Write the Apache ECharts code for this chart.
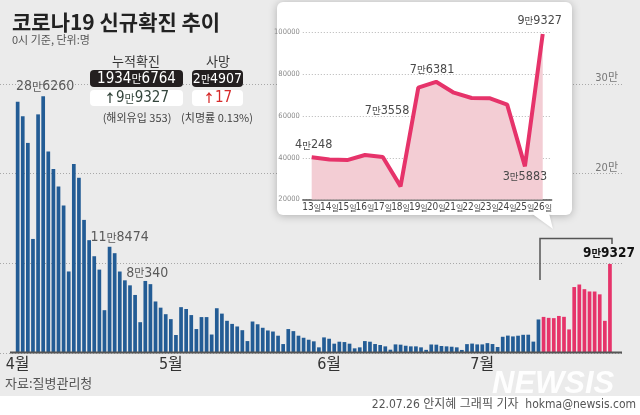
<!DOCTYPE html>
<html><head><meta charset="utf-8">
<script src="https://cdn.jsdelivr.net/npm/echarts@6/dist/echarts.min.js"></script>
<style>html,body{margin:0;padding:0;background:#fff}#c{width:640px;height:415px}</style>
</head><body><div id="c"></div>
<script>
// ---- data ----
const months = ['4월', '5월', '6월', '7월'];
const monthDays = [30, 31, 30, 26];
const aprCases = [280273, 264171, 234301, 127190, 266135, 286260, 224820, 205333, 185566, 164481,
  90928, 210755, 195419, 148443, 125846, 107916, 93001, 47743, 118474, 111319,
  90867, 81058, 75449, 64725, 34370, 80340, 76787, 57464, 50568, 43283];
const mayCases = [37771, 20084, 51131, 49064, 42296, 26714, 40064, 40050, 20601, 49933,
  43925, 35906, 32451, 29581, 25434, 13296, 35117, 32057, 28130, 25125,
  23956, 19298, 9975, 26700, 24400, 19300, 17000, 14800, 13000, 6300, 17400];
const junCases = [15900, 10400, 12600, 12200, 10400, 5200, 6300, 13300, 12600, 10000,
  8900, 7400, 3700, 9600, 9300, 8100, 7400, 7400, 6300, 3500,
  9500, 9300, 7800, 7400, 7000, 6300, 3400, 9900, 10500, 9600];
const julCases = [9600, 11000, 10000, 6700, 18100, 19400, 18500, 19300, 20300, 20400,
  12700, 37400, 40248, 39196, 38882, 41310, 40342, 26299, 73558, 76381,
  71170, 68632, 68551, 65433, 35883, 99327];
const insetDays = ['13일','14일','15일','16일','17일','18일','19일','20일','21일','22일','23일','24일','25일','26일'];
const mainTicks = [100000, 200000, 300000];
const mainTickLabels = ['', '20만', '30만'];
const insetTicks = [20000, 40000, 60000, 80000, 100000];
const mainAnnotated = ['4월 6일', '4월 19일', '4월 26일', '7월 26일'];
const insetAnnotated = ['13일', '19일', '20일', '25일', '26일'];
const redFrom = '7월 13일';

// ---- build ----
const BLUE = '#235c95', RED = '#e6336a';
const NARROW = "'Liberation Sans Narrow','DejaVu Sans Condensed','Noto Sans CJK KR',sans-serif";
const KR = "'Noto Sans CJK KR',sans-serif";
const cats = [];
months.forEach((m, i) => { for (let d = 1; d <= monthDays[i]; d++) cats.push(m + ' ' + d + '일'); });
const allCases = aprCases.concat(mayCases, junCases, julCases);
const redStart = cats.indexOf(redFrom);
const insetCases = julCases.slice(julCases.length - insetDays.length);

function kor(v) { return '{n|' + Math.floor(v / 10000) + '}{m|만}{n|' + (v % 10000) + '}'; }

const mainLabelStyles = [
  { offset: [2, 0], distance: 3 },
  { offset: [10, 0], distance: 2 },
  { offset: [2, 0], distance: 1 },
  { offset: [-1, 0], distance: 4, dark: true }
];
function richFor(color, bold, ns, ms) {
  return {
    n: { fontSize: ns, fontFamily: NARROW, color: color, fontWeight: bold ? 'bold' : 'normal' },
    m: { fontSize: ms, fontFamily: KR, color: color, fontWeight: bold ? 'bold' : 'normal' }
  };
}
const barData = allCases.map((v, i) => {
  const item = { value: v };
  if (i >= redStart) item.itemStyle = { color: RED };
  const k = mainAnnotated.indexOf(cats[i]);
  if (k >= 0) {
    const s = mainLabelStyles[k];
    item.label = {
      show: true, position: 'top', offset: s.offset, distance: s.distance,
      formatter: p => kor(p.value),
      rich: s.dark ? richFor('#111', true, 13.5, 10.5) : richFor('#5a5a5a', false, 14, 11)
    };
  }
  return item;
});

const insetLabelPos = [
  { position: 'top', distance: 6, offset: [2, 0] },
  { position: 'left', distance: 9, offset: [0, 23] },
  { position: 'top', distance: 6, offset: [-4, 0] },
  { position: 'bottom', distance: 4, offset: [0, 0] },
  { position: 'top', distance: 7, offset: [-3, 0] }
];
const lineData = insetCases.map((v, i) => {
  const item = { value: v };
  const k = insetAnnotated.indexOf(insetDays[i]);
  if (k >= 0) {
    const s = insetLabelPos[k];
    item.label = {
      show: true, position: s.position, distance: s.distance, offset: s.offset,
      formatter: p => kor(p.value), rich: richFor('#4a4a4a', false, 12.5, 9.5)
    };
  }
  return item;
});

function txt(x, y, text, font, color, align, valign, z, rich) {
  const st = { text: text, font: font, fill: color, textAlign: align || 'left', textVerticalAlign: valign || 'middle',
    align: align || 'left', verticalAlign: valign || 'middle' };
  if (rich) st.rich = rich;
  return { type: 'text', x: x, y: y, z: z || 10, style: st };
}

const chart = echarts.init(document.getElementById('c'), null, { renderer: 'canvas' });
chart.setOption({
  backgroundColor: '#ebebeb',
  animation: false,
  grid: [
    { left: 15.1, right: 27.5, top: 84, bottom: 62 },
    { left: 0, right: 18, top: 84, bottom: 62 },
    { left: 302.8, right: 88.4, top: 32.5, bottom: 215.5 }
  ],
  xAxis: [
    { type: 'category', gridIndex: 0, data: cats, boundaryGap: true,
      axisLine: { show: false }, axisTick: { show: false },
      axisLabel: { interval: (i, v) => / 1일$/.test(v), formatter: v => v.split(' ')[0],
        fontSize: 16, color: '#333', margin: 4, fontFamily: NARROW } },
    { type: 'value', gridIndex: 1, min: 0, max: 1, show: false },
    { type: 'category', gridIndex: 2, data: insetDays, boundaryGap: true, z: 3,
      axisLine: { lineStyle: { color: '#555', width: 1.5 } },
      axisTick: { alignWithLabel: true, length: 3, lineStyle: { color: '#555' } },
      axisLabel: { interval: 0, margin: 3, color: '#444',
        formatter: v => '{n|' + v.replace('일', '') + '}{d|일}',
        rich: { n: { fontSize: 10, fontFamily: NARROW, color: '#444' }, d: { fontSize: 8, fontFamily: KR, color: '#444' } } } }
  ],
  yAxis: [
    { type: 'value', gridIndex: 0, min: 0, max: 300000, show: false },
    { type: 'value', gridIndex: 1, min: 0, max: 300000, interval: 100000, position: 'right', z: 0,
      axisLine: { show: false }, axisTick: { show: false },
      splitLine: { lineStyle: { color: '#a8a8a8', type: [1, 2], width: 1 } },
      axisLabel: { inside: true, verticalAlign: 'bottom', margin: 4, fontSize: 11, color: '#777', fontFamily: NARROW,
        formatter: v => { const k = mainTicks.indexOf(v); return k >= 0 ? mainTickLabels[k] : ''; } } },
    { type: 'value', gridIndex: 2, min: insetTicks[0], max: insetTicks[insetTicks.length - 1], interval: 20000, z: 3,
      axisLine: { show: false }, axisTick: { show: false },
      splitLine: { lineStyle: { color: '#b5b5b5', type: [1, 2], width: 1 } },
      axisLabel: { fontSize: 7.5, color: '#8a8a8a', margin: 3, fontFamily: NARROW, formatter: v => String(v) } }
  ],
  series: [
    { type: 'bar', xAxisIndex: 0, yAxisIndex: 0, data: barData, barWidth: 3.7,
      itemStyle: { color: BLUE }, z: 2 },
    { type: 'line', xAxisIndex: 2, yAxisIndex: 2, data: lineData, z: 4,
      symbol: 'circle', symbolSize: 0, showSymbol: true,
      lineStyle: { color: RED, width: 4 }, itemStyle: { color: RED },
      areaStyle: { color: '#f3cdd4', opacity: 1, origin: 'start' } }
  ],
  graphic: [
    { type: 'rect', z: 0, shape: { x: 0, y: 396, width: 640, height: 19 }, style: { fill: '#ffffff' } },
    txt(12, 22, '코로나19 신규확진 추이', 'bold 21px ' + KR, '#222'),
    txt(12, 40, '0시 기준, 단위:명', '11px ' + KR, '#555'),
    txt(136, 61, '누적확진', '13px ' + KR, '#333', 'center'),
    txt(218, 61, '사망', '13px ' + KR, '#333', 'center'),
    { type: 'rect', z: 9, shape: { x: 90, y: 70, width: 93, height: 17, r: 4 }, style: { fill: '#231f20' } },
    { type: 'rect', z: 9, shape: { x: 192, y: 70, width: 51, height: 17, r: 4 }, style: { fill: '#231f20' } },
    { type: 'rect', z: 9, shape: { x: 90, y: 90, width: 93, height: 16, r: 4 }, style: { fill: '#ffffff' } },
    { type: 'rect', z: 9, shape: { x: 192, y: 90, width: 51, height: 16, r: 4 }, style: { fill: '#ffffff' } },
    txt(136.5, 79, kor(19346764), '15px ' + NARROW, '#fff', 'center', 'middle', 10, richFor('#fff', false, 15, 11)),
    txt(217.5, 79, kor(24907), '14px ' + NARROW, '#fff', 'center', 'middle', 10, richFor('#fff', false, 14, 10)),
    txt(136.5, 98.5, '{a|↑}' + kor(99327), '15px ' + NARROW, '#34453c', 'center', 'middle', 10,
      Object.assign({ a: { fontSize: 12, fontFamily: KR, color: '#34453c', fontWeight: 'bold' } }, richFor('#34453c', false, 15, 11))),
    txt(217.5, 98.5, '{a|↑}{n|17}', '15px ' + NARROW, '#d62a2a', 'center', 'middle', 10,
      { a: { fontSize: 12, fontFamily: KR, color: '#d62a2a', fontWeight: 'bold' }, n: { fontSize: 15, fontFamily: NARROW, color: '#d62a2a' } }),
    txt(137, 118, '(해외유입 353)', '11px ' + KR, '#444', 'center'),
    txt(217, 118, '(치명률 0.13%)', '11px ' + KR, '#444', 'center'),
    { type: 'rect', z: 1, shape: { x: 277, y: 2, width: 295, height: 213, r: 6 },
      style: { fill: '#fff', shadowBlur: 8, shadowColor: 'rgba(0,0,0,0.25)', shadowOffsetY: 1 } },
    { type: 'polygon', z: 1, shape: { points: [[531, 213], [549, 213], [553, 229]] },
      style: { fill: '#fff', shadowBlur: 3, shadowColor: 'rgba(0,0,0,0.15)' } },
    { type: 'rect', z: 1, shape: { x: 529, y: 208, width: 22, height: 6 }, style: { fill: '#fff' } },
    { type: 'polyline', z: 5, shape: { points: [[540, 280], [540, 238.5], [612, 238.5], [612, 244]] },
      style: { stroke: '#555', lineWidth: 1.5, fill: null } },
    { type: 'line', z: 5, shape: { x1: 10, y1: 352.5, x2: 622, y2: 352.5 }, style: { stroke: '#555', lineWidth: 2 } },
    txt(5, 383, '자료:질병관리청', '13px ' + KR, '#555'),
    txt(636, 405, '22.07.26 안지혜 그래픽 기자  hokma@newsis.com', '12px ' + NARROW, '#555', 'right'),
    txt(492, 384, 'NEWSIS', 'italic bold 31px "Liberation Sans", sans-serif', 'rgba(255,255,255,0.92)', 'left', 'middle', 3)
  ]
});
</script></body></html>
